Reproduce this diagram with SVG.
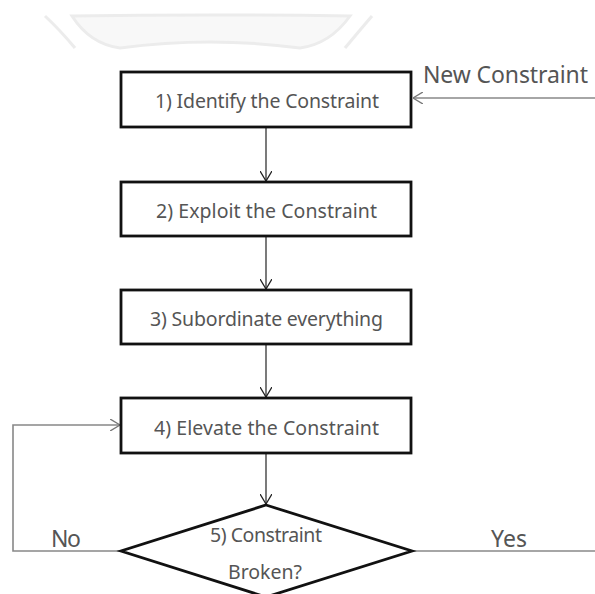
<svg xmlns="http://www.w3.org/2000/svg" width="595" height="594" viewBox="0 0 595 594">
<style>
.box{fill:#fff;stroke:#111;stroke-width:2.8}
.t{font-family:"Noto Sans","Liberation Sans",sans-serif;font-size:19.5px;fill:#555}
.lbl{font-family:"Noto Sans","Liberation Sans",sans-serif;font-size:23px;fill:#555}
.c{fill:none;stroke:#222;stroke-width:1.2}
.g{fill:none;stroke:#888;stroke-width:1.6}
.wm{fill:#f8f8f8;stroke:#ececec;stroke-width:3}
</style>
<defs>
<marker id="ah" viewBox="0 0 10 12" refX="10" refY="6" markerWidth="10" markerHeight="12" markerUnits="userSpaceOnUse" orient="auto">
<path d="M0,0 L10,6 L0,12" fill="none" stroke="#222" stroke-width="1.3"/>
</marker>
<marker id="ahg" viewBox="0 0 10 12" refX="10" refY="6" markerWidth="10" markerHeight="12" markerUnits="userSpaceOnUse" orient="auto">
<path d="M0,0 L10,6 L0,12" fill="none" stroke="#777" stroke-width="1.4"/>
</marker>
</defs>
<rect width="595" height="594" fill="#fff"/>
<g id="watermark">
<path class="wm" d="M72,16 Q210,14 350,16 Q330,44 300,48 Q210,36 120,48 Q90,44 72,16 Z"/>
<path class="wm" d="M45,16 Q60,30 75,48" />
<path class="wm" d="M372,16 Q360,30 345,48" />
</g>
<g id="connectors">
<line class="g" x1="595" y1="98" x2="413" y2="98" marker-end="url(#ahg)"/>
<line class="c" x1="266" y1="128" x2="266" y2="181" marker-end="url(#ah)"/>
<line class="c" x1="266" y1="237" x2="266" y2="289" marker-end="url(#ah)"/>
<line class="c" x1="266" y1="345" x2="266" y2="397" marker-end="url(#ah)"/>
<line class="c" x1="266" y1="454" x2="266" y2="504" marker-end="url(#ah)"/>
<polyline class="g" points="121,551 13,551 13,425 120,425" marker-end="url(#ahg)"/>
<line class="g" x1="413" y1="551" x2="595" y2="551"/>
<text class="lbl" x="423" y="83" textLength="165">New Constraint</text>
<text class="lbl" x="51" y="547" textLength="30">No</text>
<text class="lbl" x="491" y="547" textLength="36">Yes</text>
</g>
<g id="n1">
<rect class="box" x="121" y="72" width="290" height="55"/>
<text class="t" x="155" y="108" textLength="224">1) Identify the Constraint</text>
</g>
<g id="n2">
<rect class="box" x="121" y="182" width="290" height="54"/>
<text class="t" x="156" y="218" textLength="221">2) Exploit the Constraint</text>
</g>
<g id="n3">
<rect class="box" x="121" y="290" width="290" height="54"/>
<text class="t" x="150" y="326" textLength="233">3) Subordinate everything</text>
</g>
<g id="n4">
<rect class="box" x="121" y="398" width="290" height="55"/>
<text class="t" x="154" y="435" textLength="225">4) Elevate the Constraint</text>
</g>
<g id="n5">
<polygon class="box" points="266,505 412,551 266,597 121,551"/>
<text class="t" x="210" y="542" textLength="112">5) Constraint</text>
<text class="t" x="228" y="579" textLength="74">Broken?</text>
</g>
</svg>
